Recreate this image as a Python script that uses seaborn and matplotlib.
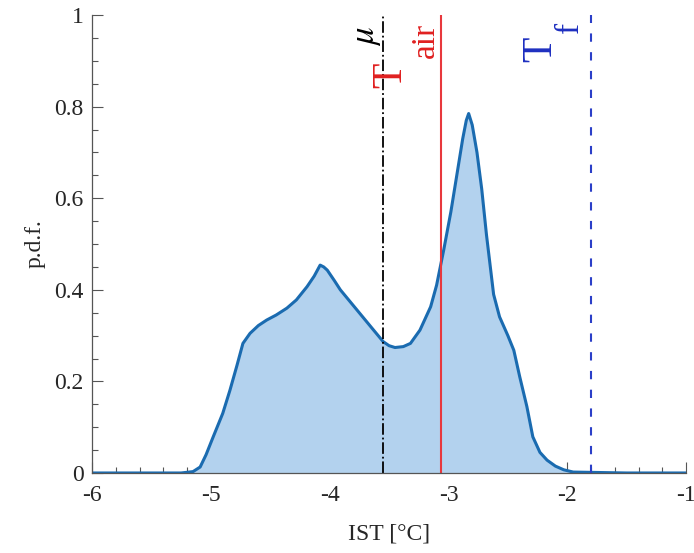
import numpy as np
import pandas as pd
import seaborn as sns
import matplotlib
matplotlib.use("Agg")
import matplotlib.pyplot as plt
from matplotlib.ticker import MultipleLocator

# p.d.f. of IST
ist = [-6.0, -5.5, -5.25, -5.15, -5.09, -5.04, -4.98, -4.90, -4.84, -4.78,
       -4.73, -4.67, -4.60, -4.53, -4.45, -4.36, -4.28, -4.19, -4.13, -4.08,
       -4.05, -4.02, -3.96, -3.91, -3.84, -3.77, -3.70, -3.63, -3.55, -3.50,
       -3.45, -3.38, -3.32, -3.24, -3.15, -3.10, -3.04, -2.98, -2.93, -2.88,
       -2.85, -2.83, -2.80, -2.76, -2.72, -2.68, -2.62, -2.57, -2.50, -2.45,
       -2.40, -2.34, -2.29, -2.23, -2.17, -2.10, -2.03, -1.95, -1.5, -1.0]
pdf = [0, 0, 0.0, 0.003, 0.013, 0.04, 0.079, 0.13, 0.18, 0.235,
       0.283, 0.305, 0.322, 0.334, 0.345, 0.36, 0.378, 0.407, 0.43, 0.454,
       0.45, 0.443, 0.42, 0.40, 0.378, 0.356, 0.334, 0.312, 0.287, 0.278,
       0.274, 0.276, 0.283, 0.312, 0.363, 0.41, 0.487, 0.57, 0.65, 0.73,
       0.77, 0.785, 0.76, 0.70, 0.62, 0.52, 0.39, 0.341, 0.30, 0.268,
       0.21, 0.145, 0.079, 0.045, 0.028, 0.015, 0.007, 0.002, 0, 0]

# reference temperatures
t_mu = -3.55
t_air = -3.06
t_f = -1.8

df = pd.DataFrame({"IST": ist, "pdf": pdf})

sns.set_theme(style="ticks")
plt.rcParams["font.family"] = ["Liberation Serif", "DejaVu Serif"]
plt.rcParams["mathtext.fontset"] = "stix"

fig = plt.figure(figsize=(6.94, 5.53), dpi=100)
ax = fig.add_axes([0.1326, 0.1447, 0.856, 0.828])

ax.fill_between(df["IST"], df["pdf"], color="#b3d2ee", lw=0)
sns.lineplot(data=df, x="IST", y="pdf", ax=ax, color="#1a6bb0", lw=2.2)

ax.axvline(t_mu, color="black", ls="-.", lw=1.3)
ax.axvline(t_air, color="#e8383d", ls="-", lw=1.5)
ax.axvline(t_f, color="#2b3fc8", ls=(0, (4, 5)), lw=1.5)

# line labels: rotated letters, subscripts placed as separate text
ax.text(-3.69, 0.954, r"$\mu$", rotation=90, color="black",
        fontsize=25, ha="center", va="center")
ax.text(-3.483, 0.869, "T", rotation=90, color="#e02020",
        fontsize=30, ha="center", va="center")
ax.text(-3.19, 0.945, "air", rotation=90, color="#e02020",
        fontsize=24, ha="center", va="center")
ax.text(-2.223, 0.926, "T", rotation=90, color="#1e2fc0",
        fontsize=30, ha="center", va="center")
ax.text(-1.98, 0.974, "f", rotation=90, color="#1e2fc0",
        fontsize=24, ha="center", va="center")

ax.set_xlim(-6, -1)
ax.set_ylim(0, 1)
ax.xaxis.set_minor_locator(MultipleLocator(0.2))
ax.yaxis.set_minor_locator(MultipleLocator(0.05))
ax.set_xticks([-6, -5, -4, -3, -2, -1])
ax.set_xticklabels(["-6", "-5", "-4", "-3", "-2", "-1"])
ax.set_yticks([0, 0.2, 0.4, 0.6, 0.8, 1])
ax.set_yticklabels(["0", "0.2", "0.4", "0.6", "0.8", "1"])
ax.tick_params(which="major", direction="in", length=8, width=0.8,
               color="#555555", labelsize=17)
ax.tick_params(axis="x", which="major", pad=9)
ax.tick_params(axis="y", which="major", pad=6)
ax.tick_params(which="minor", direction="in", length=4, width=0.8,
               color="#555555")

sns.despine(ax=ax)
for side in ["left", "bottom"]:
    ax.spines[side].set_color("#555555")
    ax.spines[side].set_linewidth(0.9)

ax.set_xlabel("IST [°C]", fontsize=17, labelpad=12)
ax.set_ylabel("p.d.f.", fontsize=17, labelpad=6)

fig.savefig("out.png", dpi=100)
